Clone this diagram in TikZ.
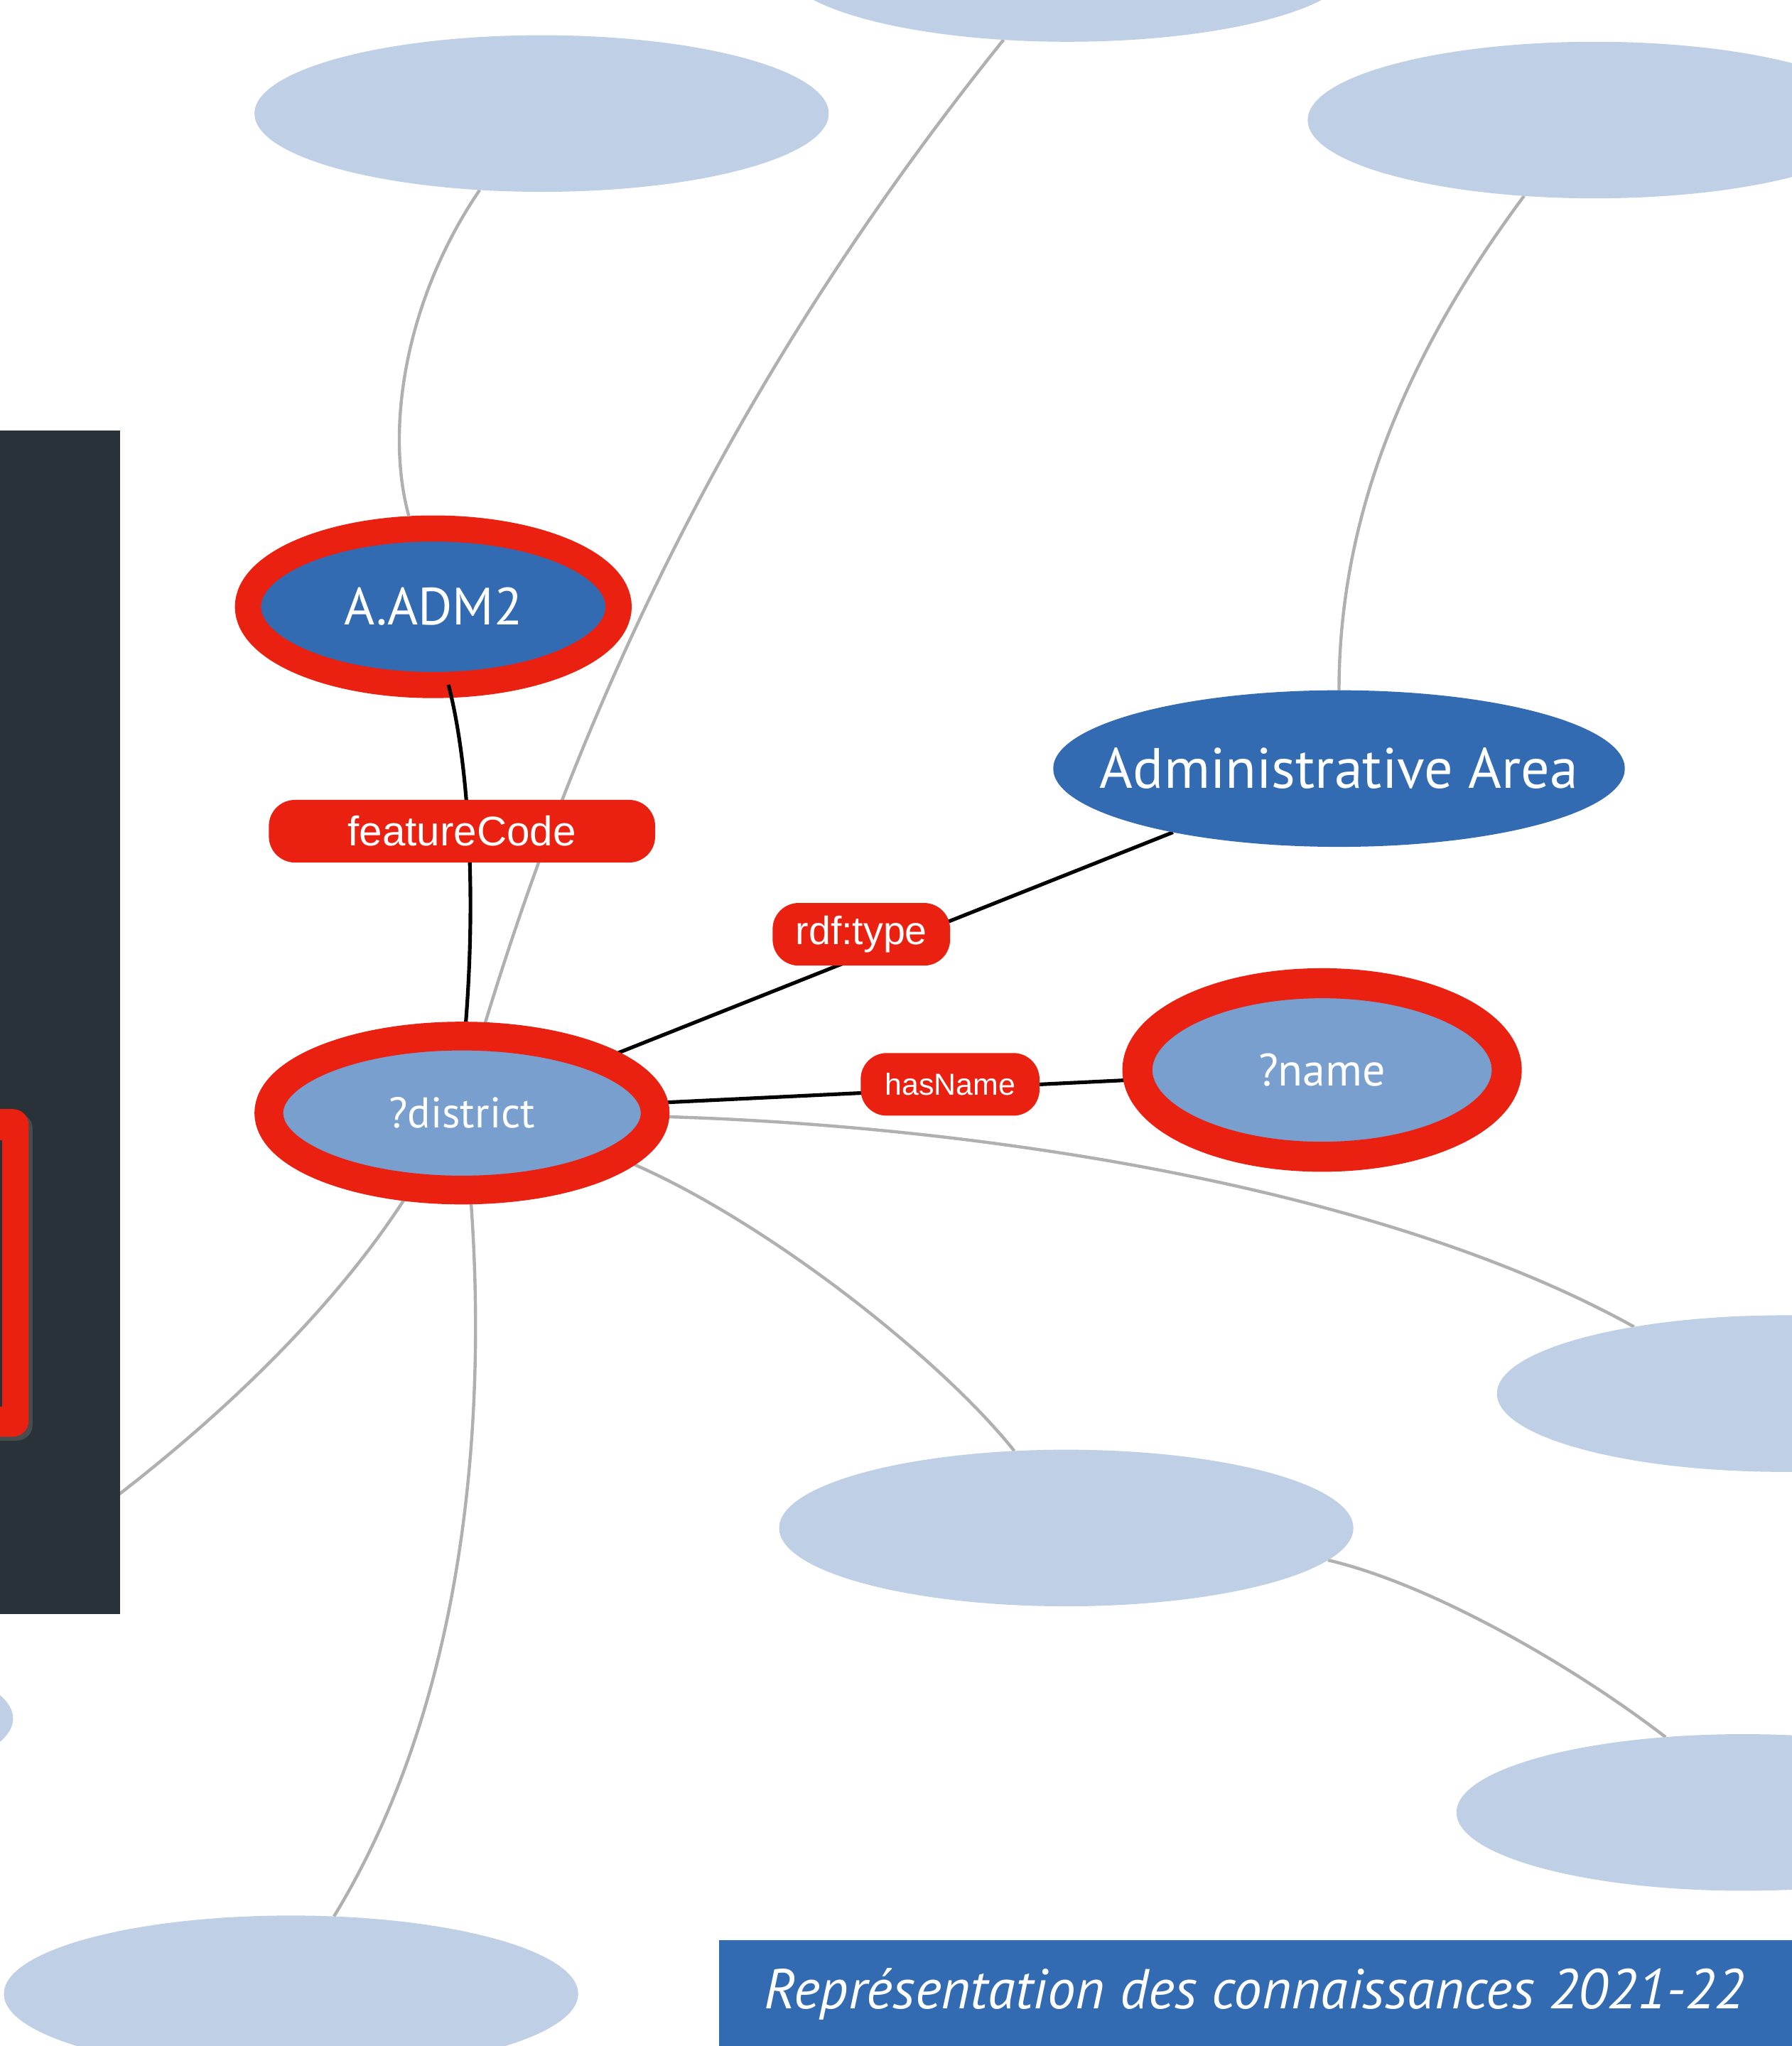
\documentclass[tikz,border=0pt]{standalone}
\usepackage{fontspec}
\setmainfont{Liberation Sans}
\newfontfamily\gill{PT Sans}
\usetikzlibrary{shapes.geometric}
\definecolor{lightell}{HTML}{BFD0E6}
\definecolor{midblue}{HTML}{336BB3}
\definecolor{varblue}{HTML}{789FCD}
\definecolor{hlred}{HTML}{EA2010}
\definecolor{edgegray}{HTML}{B0B0B0}
\definecolor{panelcol}{HTML}{283238}
\newlength\unitpx
\setlength\unitpx{0.183612mm}
\newcommand\zw[1]{\makebox[0pt][c]{#1}}
\pgfdeclarelayer{bglayer}
\pgfdeclarelayer{admlayer}
\pgfdeclarelayer{edgelayer}
\pgfsetlayers{bglayer,admlayer,edgelayer,main}
\begin{document}
\begin{tikzpicture}[x=\unitpx, y=-\unitpx,
  light/.style={ellipse, fill=lightell, minimum width=440*\unitpx, minimum height=120*\unitpx, inner sep=0pt, outer sep=0pt},
  ring/.style={ellipse, draw=hlred, inner sep=0pt, outer sep=0pt, text=white},
  pred/.style={rectangle, rounded corners=20*\unitpx, fill=hlred, text=white, inner sep=0pt, minimum height=48*\unitpx},
  gedge/.style={draw=edgegray, line width=2.4*\unitpx},
  bedge/.style={draw=black, line width=2.8*\unitpx}
]
\useasboundingbox (0,0) rectangle (1373,1568);
\begin{pgfonlayer}{bglayer}
\fill[white] (0,0) rectangle (1373,1568);
\end{pgfonlayer}

% light ellipses
\node[light] (top) at (818,-28) {};
\node[light] (tl) at (415,87) {};
\node[light] (tr) at (1222,92) {};
\node[light] (rm) at (1367,1068) {};
\node[light] (bm) at (817,1171) {};
\node[light] (br) at (1336,1389) {};
\node[light] (bl) at (223,1528) {};
\node[light] (ls) at (-210,1317) {};

% dark panel
\fill[panelcol] (0,330) rectangle (92,1237);
\fill[black!60, opacity=0.5, rounded corners=12*\unitpx] (-80,853) rectangle (25,1104);
\fill[hlred, rounded corners=12*\unitpx] (-80,850) rectangle (22,1101);
\fill[panelcol] (-80,874) rectangle (1.5,1078);
\coordinate (hid) at (30,1190);

% main nodes
\begin{pgfonlayer}{admlayer}
\node[ring, fill=midblue, line width=20*\unitpx, minimum width=284*\unitpx, minimum height=120*\unitpx, font=\gill\fontsize{21}{25}\selectfont] (adm) at (332,465) {\zw{A.ADM2}};
\end{pgfonlayer}
\node[ellipse, fill=midblue, inner sep=0pt, outer sep=0pt, minimum width=438*\unitpx, minimum height=120*\unitpx, text=white, font=\gill\fontsize{22.8}{27}\selectfont] (admin) at (1026,589) {\zw{Administrative Area}};
\node[ring, fill=varblue, line width=22*\unitpx, minimum width=296*\unitpx, minimum height=118*\unitpx, font=\gill\fontsize{17.2}{21}\selectfont] (dist) at (354,853) {\zw{?district}};
\node[ring, fill=varblue, line width=23*\unitpx, minimum width=283*\unitpx, minimum height=133*\unitpx, font=\gill\fontsize{18.2}{22}\selectfont] (name) at (1013,820) {\zw{?name}};

% predicate labels
\node[pred, minimum width=296*\unitpx, font=\fontsize{16.6}{20}\selectfont] (fc) at (354,637) {\zw{featureCode}};
\node[pred, minimum width=136*\unitpx, font=\fontsize{15.8}{19}\selectfont] (rdf) at (660,716) {\zw{rdf:type}};
\node[pred, minimum width=137*\unitpx, font=\fontsize{12.2}{15}\selectfont] (hn) at (728,831) {\zw{hasName}};

% connectors
\begin{pgfonlayer}{edgelayer}
\draw[gedge, shorten >=10*\unitpx] (tl.231) .. controls (310,230) and (295,330) .. (adm.105);
\draw[gedge] (top.230) .. controls (567,282) and (447,533) .. (dist.76);
\draw[gedge] (tr.227) .. controls (1090,255) and (1026,380) .. (admin.90);
\draw[gedge] (dist.-1) .. controls (750,862) and (1060,910) .. (rm.156);
\draw[gedge] (dist.344) .. controls (580,930) and (720,1040) .. (bm.124);
\draw[gedge] (dist.276) .. controls (372,1060) and (365,1290) .. (bl.61);
\draw[gedge] (dist.236) .. controls (260,1000) and (160,1100) .. (hid);
\draw[gedge] (bm.353) .. controls (1100,1215) and (1210,1280) .. (br.136);
\draw[bedge] (adm.281) .. controls (358,580) and (366,680) .. (dist.88);
\draw[bedge] (dist.21) -- (admin.201);
\draw[bedge] (dist.3) -- (name.183);
\end{pgfonlayer}

% footer
\fill[midblue] (551,1487) rectangle (1380,1575);
\node[text=white, font=\gill\itshape\fontsize{22.5}{27}\selectfont, inner sep=0pt] (title) at (961,1528) {Représentation des connaissances 2021-22};
\end{tikzpicture}
\end{document}
